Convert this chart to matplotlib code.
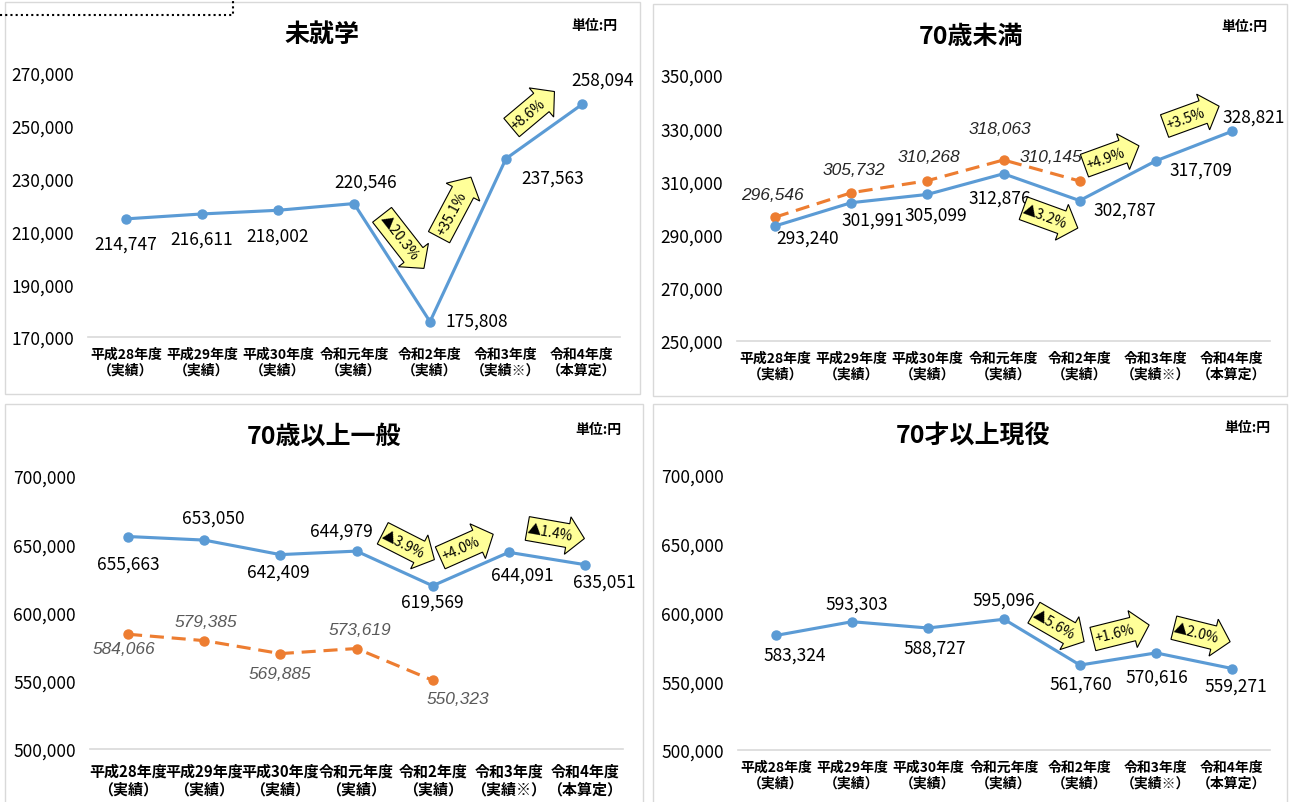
import matplotlib
matplotlib.use('Agg')
import matplotlib.pyplot as plt
from matplotlib.patches import Rectangle, Polygon
from matplotlib.lines import Line2D
import matplotlib.transforms as mtransforms

plt.rcParams['font.family'] = ['Noto Sans CJK JP', 'DejaVu Sans']

W, H = 1290, 803

categories = ['平成28年度\n（実績）', '平成29年度\n（実績）', '平成30年度\n（実績）',
              '令和元年度\n（実績）', '令和2年度\n（実績）', '令和3年度\n（実績※）',
              '令和4年度\n（本算定）']

titles = ['未就学', '70歳未満', '70歳以上一般', '70才以上現役']
unit_label = '単位:円'

mishugaku = [214747, 216611, 218002, 220546, 175808, 237563, 258094]
u70 = [293240, 301991, 305099, 312876, 302787, 317709, 328821]
u70_prev = [296546, 305732, 310268, 318063, 310145]
o70 = [655663, 653050, 642409, 644979, 619569, 644091, 635051]
o70_prev = [584066, 579385, 569885, 573619, 550323]
o70_working = [583324, 593303, 588727, 595096, 561760, 570616, 559271]

change_p1 = ['▲20.3%', '+35.1%', '+8.6%']
change_p2 = ['▲3.2%', '+4.9%', '+3.5%']
change_p3 = ['▲3.9%', '+4.0%', '▲1.4%']
change_p4 = ['▲5.6%', '+1.6%', '▲2.0%']

ylims = [(170000, 270000, 20000), (250000, 350000, 20000),
         (500000, 700000, 50000), (500000, 700000, 50000)]

BLUE = '#5B9BD5'
ORANGE = '#ED7D31'

fig = plt.figure(figsize=(W / 100, H / 100), dpi=100)
fig.patch.set_facecolor('white')

# layout (pixels)
panel_boxes = [(5, 3, 640, 395), (653, 5, 1287, 397), (5, 405, 643, 812), (653, 405, 1287, 812)]
axes_boxes = [(88, 74, 620, 338), (737, 76, 1270, 342), (90, 477, 623, 750), (738, 476, 1270, 751)]
title_pos = [(322, 35), (971, 37), (324, 437), (973, 436)]
unit_pos = [(594, 26), (1244, 27), (598, 430), (1247, 428)]
xlabel_size = [10, 10, 10.8, 10]
xlabel_pad = [7, 7, 10, 7]

solid_series = [mishugaku, u70, o70, o70_working]
prev_series = [None, u70_prev, o70_prev, None]
changes = [change_p1, change_p2, change_p3, change_p4]

solid_offsets = [
    [(0, 25), (0, 25), (0, 25), (12, -22), (47, -1), (47, 19), (21, -25)],
    [(33, 12), (22, 17), (8, 20), (-4, 24), (45, 9), (45, 9), (22, -15)],
    [(0, 27), (9, -22), (-2, 17), (-15, -20), (0, 16), (14, 22), (19, 17)],
    [(19, 19), (5, -18), (7, 20), (0, -20), (1, 19), (1, 24), (4, 17)],
]
prev_offsets = [
    None,
    [(-3, -23), (3, -23), (2, -24), (-4, -31), (-29, -25)],
    [(-4, 14), (2, -19), (0, 20), (3, -19), (25, 18)],
    None,
]
prev_label_color = [None, '#262626', '#595959', None]

# arrows: (segment index, dx, dy(screen down), angle, length)
arrow_specs = [
    [(3, 11, -21, -52, 68), (4, -13, -33, 62, 68), (5, -11, -22, 40, 56)],
    [(3, 9, 31, -20, 58), (4, -6, -25, 20, 58), (5, -2, -30, 20, 58)],
    [(3, 14, -22, -27, 58), (4, -4, -23, 24, 58), (5, 9, -25, -10, 58)],
    [(3, 17, -15, -30, 58), (4, 3, -27, 14, 58), (5, 8, -26, -14, 58)],
]


def block_arrow(ax, vals, i, dx, dy, ang, L, label):
    mx = i + 0.5
    my = (vals[i] + vals[i + 1]) / 2
    bw, hw, hl = 12, 19, 17
    pts = [(-L / 2, -bw), (L / 2 - hl, -bw), (L / 2 - hl, -hw), (L / 2, 0),
           (L / 2 - hl, hw), (L / 2 - hl, bw), (-L / 2, bw)]
    base = mtransforms.ScaledTranslation(mx, my, ax.transData)
    tr = mtransforms.Affine2D().rotate_deg(ang).translate(dx, -dy) + base
    poly = Polygon(pts, closed=True, transform=tr, facecolor='#FFFF99',
                   edgecolor='black', lw=0.8, zorder=6, clip_on=False)
    ax.add_artist(poly)
    ttr = mtransforms.Affine2D().translate(-hl / 2 + 2, 0).rotate_deg(ang).translate(dx, -dy) + base
    ax.text(0, 0, label, transform=ttr, rotation=ang, rotation_mode='anchor',
            ha='center', va='center', fontsize=10, zorder=7, clip_on=False)


for k in range(4):
    x0, y0, x1, y1 = panel_boxes[k]
    fig.add_artist(Rectangle((x0 / W, 1 - y1 / H), (x1 - x0) / W, (y1 - y0) / H,
                             transform=fig.transFigure, fill=False,
                             edgecolor='#D9D9D9', lw=1))
    ax0, ay0, ax1, ay1 = axes_boxes[k]
    ax = fig.add_axes([ax0 / W, 1 - ay1 / H, (ax1 - ax0) / W, (ay1 - ay0) / H])
    ax.set_facecolor('none')
    lo, hi, st = ylims[k]
    ax.set_ylim(lo, hi)
    ax.set_xlim(-0.5, 6.5)
    ticks = list(range(lo, hi + 1, st))
    ax.set_yticks(ticks)
    ax.set_yticklabels([f'{t:,}' for t in ticks])
    ax.set_xticks(range(len(categories)))
    ax.set_xticklabels(categories, fontsize=xlabel_size[k], fontweight='bold',
                       linespacing=1.15)
    ax.tick_params(axis='y', length=0, pad=10, labelsize=12.5)
    ax.tick_params(axis='x', length=0, pad=xlabel_pad[k])
    for s in ['top', 'left', 'right']:
        ax.spines[s].set_visible(False)
    ax.spines['bottom'].set_color('#D9D9D9')
    ax.spines['bottom'].set_linewidth(1.2)

    vals = solid_series[k]
    xs = list(range(len(vals)))
    prev = prev_series[k]
    if prev is not None:
        ax.plot(range(len(prev)), prev, color=ORANGE, lw=2.25, dashes=(4.5, 2.5),
                marker='o', markersize=6.5, zorder=3, clip_on=False)
        for i, v in enumerate(prev):
            dx, dy = prev_offsets[k][i]
            ax.annotate(f'{v:,}', (i, v), xytext=(dx, -dy), textcoords='offset pixels',
                        ha='center', va='center', fontsize=12.5, style='italic',
                        family=['Liberation Sans', 'DejaVu Sans'],
                        color=prev_label_color[k], zorder=4)
    ax.plot(xs, vals, color=BLUE, lw=2.25, marker='o', markersize=6.5,
            zorder=4, clip_on=False)
    for i, v in enumerate(vals):
        dx, dy = solid_offsets[k][i]
        ax.annotate(f'{v:,}', (i, v), xytext=(dx, -dy), textcoords='offset pixels',
                    ha='center', va='center', fontsize=12.5, zorder=5)
    for (i, dx, dy, ang, L), lab in zip(arrow_specs[k], changes[k]):
        block_arrow(ax, vals, i, dx, dy, ang, L, lab)

    tx, ty = title_pos[k]
    fig.text(tx / W, 1 - ty / H, titles[k], ha='center', va='center',
             fontsize=18, fontweight='bold')
    ux, uy = unit_pos[k]
    fig.text(ux / W, 1 - uy / H, unit_label, ha='center', va='center',
             fontsize=10, fontweight='bold')

# dotted box at top-left
fig.add_artist(Line2D([0, 233 / W, 233 / W], [1 - 16 / H, 1 - 16 / H, 1],
                      transform=fig.transFigure, color='black', lw=1.5,
                      linestyle=(0, (1, 1.5))))

fig.savefig('out.png', dpi=100, facecolor='white')
